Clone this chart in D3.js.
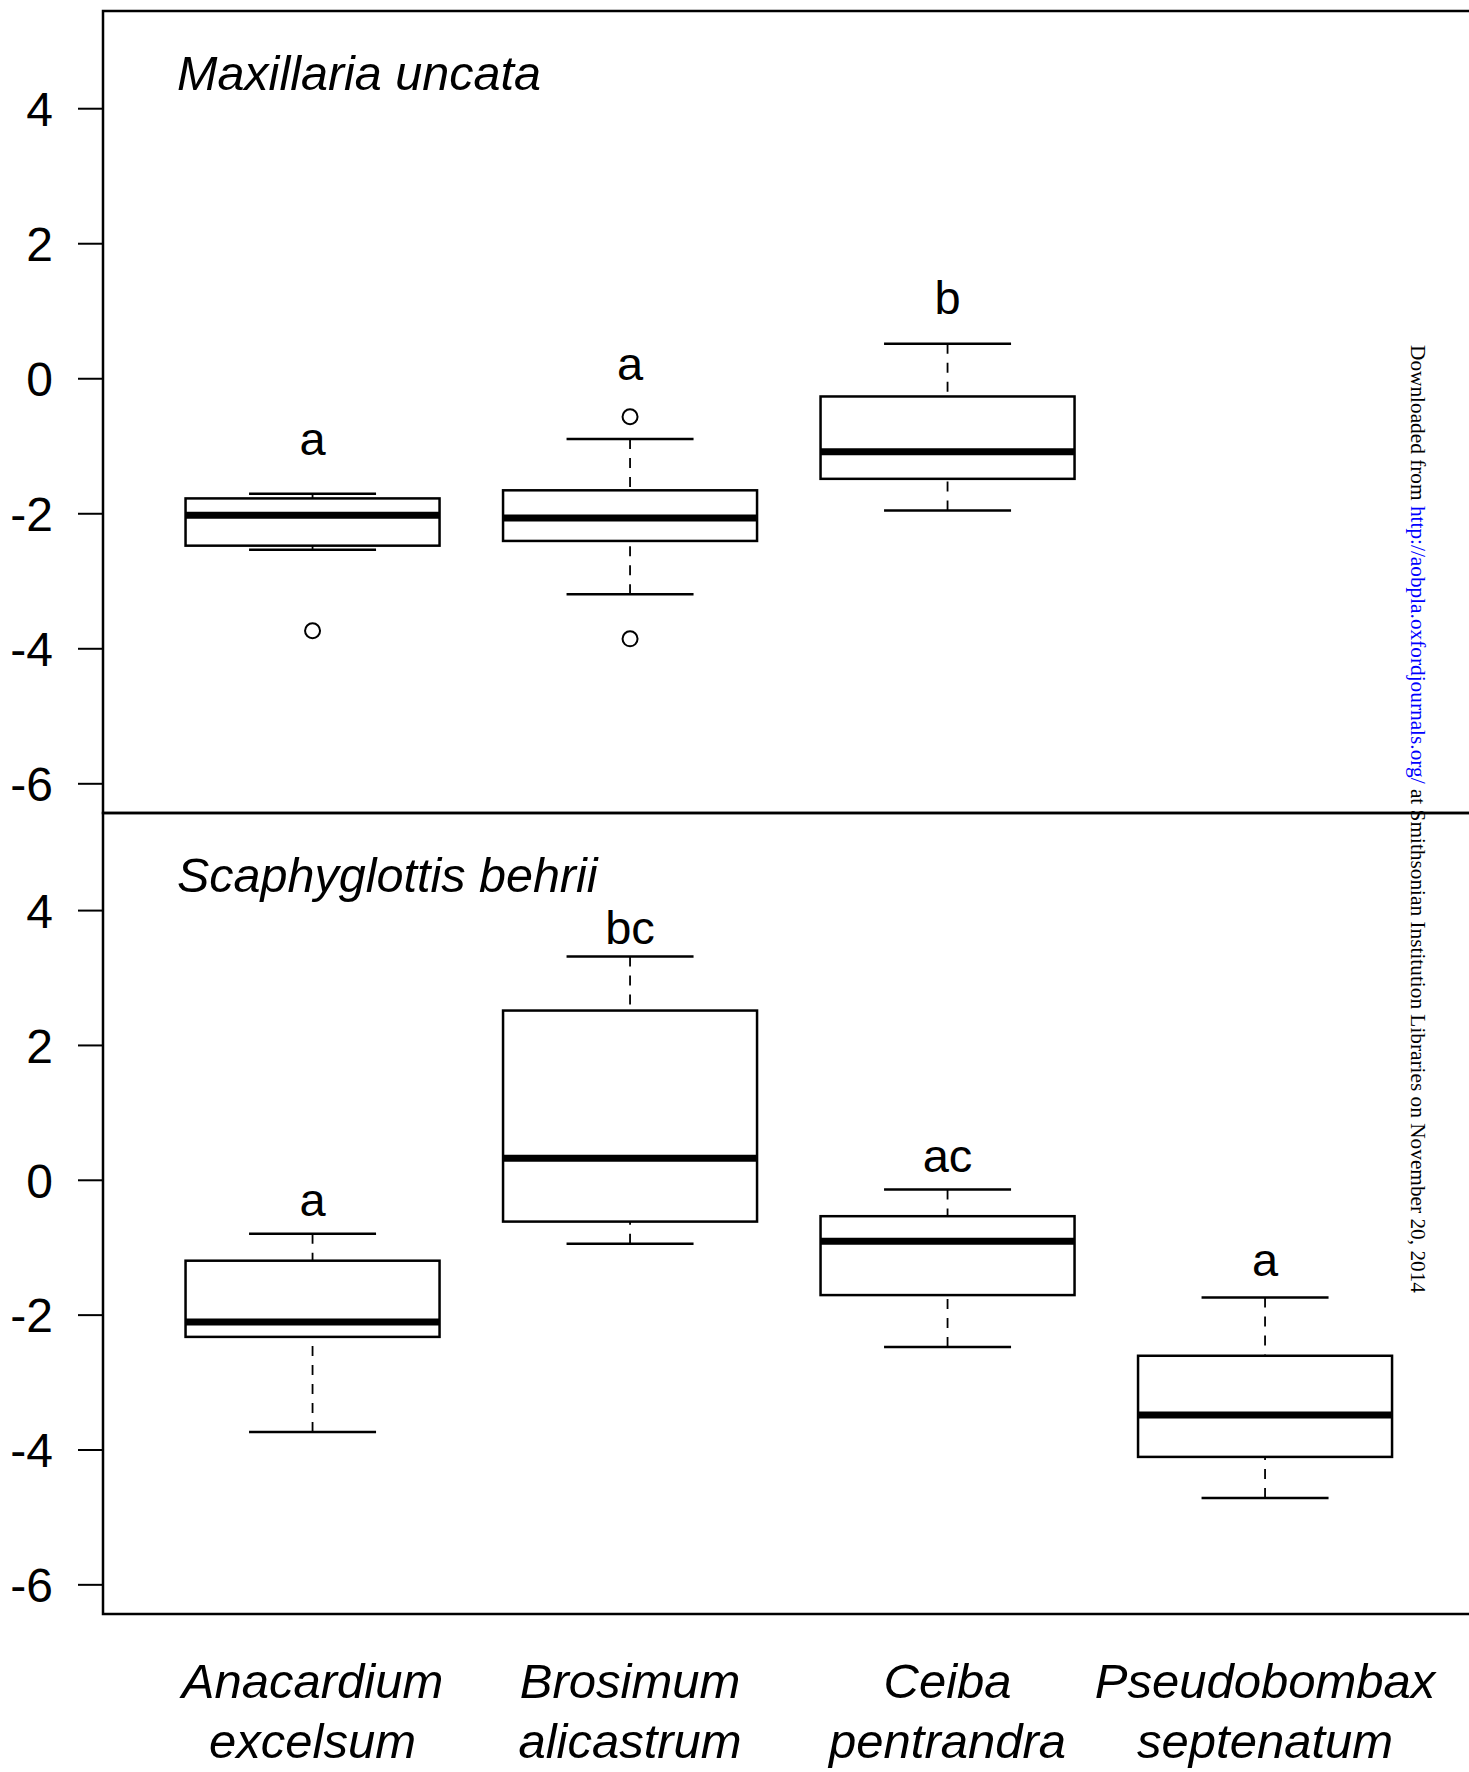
<!DOCTYPE html>
<html>
<head>
<meta charset="utf-8">
<script src="https://cdn.jsdelivr.net/npm/d3@7"></script>
<style>
    body { margin: 0; padding: 0; background: #fff; }
    svg text { font-family: 'Liberation Sans', Arial, sans-serif; }
</style>
</head>
<body>
<script>

// host tree species (two lines each on the x axis)
var hostGenus = ['Anacardium', 'Brosimum', 'Ceiba', 'Pseudobombax']
var hostEpithet = ['excelsum', 'alicastrum', 'pentrandra', 'septenatum']

var panelTitles = ['Maxillaria uncata', 'Scaphyglottis behrii']
var yTicks = [-6, -4, -2, 0, 2, 4]

// Maxillaria uncata (no data on Pseudobombax)
var maxLow = [-2.54, -3.20, -1.96]
var maxQ1 = [-2.48, -2.41, -1.49]
var maxMedian = [-2.03, -2.07, -1.09]
var maxQ3 = [-1.78, -1.66, -0.27]
var maxHigh = [-1.71, -0.90, 0.51]
var maxOutliers = [[-3.74], [-0.57, -3.86], []]
var maxLetters = ['a', 'a', 'b']
var maxLetterY = [-1.14, -0.03, 0.95]

// Scaphyglottis behrii
var scaLow = [-3.74, -0.95, -2.48, -4.72]
var scaQ1 = [-2.33, -0.62, -1.71, -4.11]
var scaMedian = [-2.11, 0.32, -0.91, -3.49]
var scaQ3 = [-1.20, 2.51, -0.54, -2.61]
var scaHigh = [-0.80, 3.31, -0.145, -1.745]
var scaOutliers = [[], [], [], []]
var scaLetters = ['a', 'bc', 'ac', 'a']
var scaLetterY = [-0.53, 3.50, 0.12, -1.43]

var width = 1469
var height = 1772

var svg = d3.select('body')
                .append('svg')
                    .attr('width', width)
                    .attr('height', height)

var plotLeft = 103
var xscale = d3.scaleLinear()
                .domain([0.34, 4.66])
                .range([plotLeft, plotLeft + 4.32 * 317.5])

function drawPanel(top, bottom, title, low, q1, med, q3, high, outliers, letters, letterY) {

    var yscale = d3.scaleLinear()
                    .domain([-6.44, 5.44])
                    .range([bottom, top])

    var y_axis = d3.axisLeft()
                    .scale(yscale)
                    .tickValues(yTicks)
                    .tickSize(25)
                    .tickPadding(25)
                    .tickFormat(d => String(d))

    var ax = svg.append('g')
            .attr('transform', 'translate(' + plotLeft + ', 0)')
            .call(y_axis)
    ax.select('.domain').remove()
    ax.selectAll('.tick line').attr('stroke', '#000').attr('stroke-width', 2)
    ax.selectAll('.tick text')
            .attr('fill', '#000')
            .style('font-size', '48px')
            .attr('dy', '0.36em')

    // frame
    svg.append('rect')
            .attr('x', plotLeft)
            .attr('y', top)
            .attr('width', xscale(4.66) - plotLeft)
            .attr('height', bottom - top)
            .attr('fill', 'none')
            .attr('stroke', '#000')
            .attr('stroke-width', 2.5)

    svg.append('text')
            .attr('x', 177)
            .attr('y', top + 79)
            .text(title)
            .style('font-size', '48.5px')
            .style('font-style', 'italic')

    var boxes = svg.selectAll(null)
                    .data(d3.range(low.length))
                    .enter()
                        .append('g')

    // whiskers, dashed, drawn from the cap to the box
    boxes.append('line')
            .attr('x1', i => xscale(i + 1))
            .attr('x2', i => xscale(i + 1))
            .attr('y1', i => yscale(high[i]))
            .attr('y2', i => yscale(q3[i]))
            .attr('stroke', '#000')
            .attr('stroke-width', 1.8)
            .attr('stroke-dasharray', '10 9')
    boxes.append('line')
            .attr('x1', i => xscale(i + 1))
            .attr('x2', i => xscale(i + 1))
            .attr('y1', i => yscale(low[i]))
            .attr('y2', i => yscale(q1[i]))
            .attr('stroke', '#000')
            .attr('stroke-width', 1.8)
            .attr('stroke-dasharray', '10 9')

    // caps
    ;[low, high].forEach(function(arr) {
        boxes.append('line')
                .attr('x1', i => xscale(i + 1 - 0.2))
                .attr('x2', i => xscale(i + 1 + 0.2))
                .attr('y1', i => yscale(arr[i]))
                .attr('y2', i => yscale(arr[i]))
                .attr('stroke', '#000')
                .attr('stroke-width', 2.5)
    })

    boxes.append('rect')
            .attr('x', i => xscale(i + 1 - 0.4))
            .attr('width', i => xscale(i + 1 + 0.4) - xscale(i + 1 - 0.4))
            .attr('y', i => yscale(q3[i]))
            .attr('height', i => yscale(q1[i]) - yscale(q3[i]))
            .attr('fill', '#fff')
            .attr('stroke', '#000')
            .attr('stroke-width', 2.5)

    boxes.append('line')
            .attr('x1', i => xscale(i + 1 - 0.4))
            .attr('x2', i => xscale(i + 1 + 0.4))
            .attr('y1', i => yscale(med[i]))
            .attr('y2', i => yscale(med[i]))
            .attr('stroke', '#000')
            .attr('stroke-width', 7)

    boxes.each(function(i) {
        d3.select(this).selectAll('circle')
                .data(outliers[i])
                .enter()
                    .append('circle')
                        .attr('cx', xscale(i + 1))
                        .attr('cy', d => yscale(d))
                        .attr('r', 7.5)
                        .attr('fill', 'none')
                        .attr('stroke', '#000')
                        .attr('stroke-width', 2)
    })

    boxes.append('text')
            .attr('x', i => xscale(i + 1))
            .attr('y', i => yscale(letterY[i]))
            .attr('text-anchor', 'middle')
            .style('font-size', '47px')
            .text(i => letters[i])
}

drawPanel(11, 813, panelTitles[0], maxLow, maxQ1, maxMedian, maxQ3, maxHigh, maxOutliers, maxLetters, maxLetterY)
drawPanel(813, 1614, panelTitles[1], scaLow, scaQ1, scaMedian, scaQ3, scaHigh, scaOutliers, scaLetters, scaLetterY)

// x axis category names, no ticks
var xlab = svg.selectAll(null)
                .data(hostGenus)
                .enter()
                    .append('text')
                        .attr('x', (d, i) => xscale(i + 1))
                        .attr('y', 1698)
                        .attr('text-anchor', 'middle')
                        .style('font-size', '49px')
                        .style('font-style', 'italic')
xlab.append('tspan').text(d => d)
xlab.append('tspan')
        .attr('x', (d, i) => xscale(i + 1))
        .attr('dy', 60)
        .text((d, i) => hostEpithet[i])

// download stamp down the right side
var stamp = svg.append('text')
                .attr('transform', 'translate(1411, 345) rotate(90)')
                .attr('textLength', 948)
                .attr('lengthAdjust', 'spacingAndGlyphs')
                .style('font-family', "'Liberation Serif', 'Times New Roman', serif")
                .style('font-size', '20.5px')
stamp.append('tspan').text('Downloaded from ')
stamp.append('tspan').attr('fill', '#0000ff').text('http://aobpla.oxfordjournals.org/')
stamp.append('tspan').text(' at Smithsonian Institution Libraries on November 20, 2014')

</script>
</body>
</html>
